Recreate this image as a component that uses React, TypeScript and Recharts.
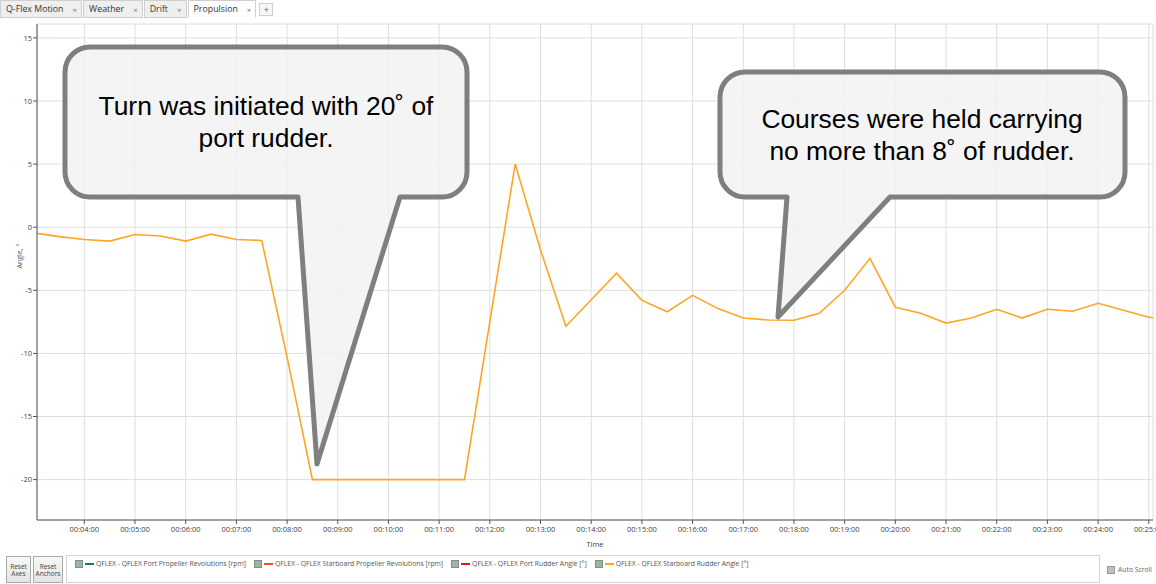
import React from 'react';
import { LineChart, Line, XAxis, YAxis, CartesianGrid } from 'recharts';

// ---- data ----
const timeSec = [
  180, 210, 240, 270, 300, 330, 360, 390, 420, 450,
  480, 510, 540, 570, 600, 630, 660, 690, 720, 750,
  780, 810, 840, 870, 900, 930, 960, 990, 1020, 1050,
  1080, 1110, 1140, 1170, 1200, 1230, 1260, 1290, 1320, 1350,
  1380, 1410, 1440, 1470, 1500, 1530,
];
const starboardRudderAngle = [
  -0.45, -0.75, -0.97, -1.1, -0.58, -0.7, -1.1, -0.55, -0.97, -1.05,
  -10.3, -20, -20, -20, -20, -20, -20, -20, -7.5, 5.0,
  -1.8, -7.85, -5.75, -3.65, -5.8, -6.7, -5.4, -6.45, -7.2, -7.35,
  -7.37, -6.82, -5.0, -2.47, -6.34, -6.82, -7.6, -7.2, -6.5, -7.2,
  -6.5, -6.66, -6.03, -6.58, -7.13, -7.4,
];
const xMajorTicks = [240, 300, 360, 420, 480, 540, 600, 660, 720, 780, 840, 900, 960, 1020, 1080, 1140, 1200, 1260, 1320, 1380, 1440, 1500];
const xMinorTicks: number[] = [];
for (let s = 190; s <= 1500; s += 10) xMinorTicks.push(s);
const yMajorTicks = [-20, -15, -10, -5, 0, 5, 10, 15];
const yMinorTicks = [-23, -22, -21, -20, -19, -18, -17, -16, -15, -14, -13, -12, -11, -10, -9, -8, -7, -6, -5, -4, -3, -2, -1, 0, 1, 2, 3, 4, 5, 6, 7, 8, 9, 10, 11, 12, 13, 14, 15, 16];
const xDomain = [184, 1505];
const yDomain = [-23.2, 16.1];

const tabNames = ['Q-Flex Motion', 'Weather', 'Drift', 'Propulsion'];
const activeTab = 'Propulsion';
const legendNames = [
  'QFLEX - QFLEX Port Propeller Revolutions [rpm]',
  'QFLEX - QFLEX Starboard Propeller Revolutions [rpm]',
  'QFLEX - QFLEX Port Rudder Angle [°]',
  'QFLEX - QFLEX Starboard Rudder Angle [°]',
];
const legendColors = ['#1b7a5e', '#ff4b1f', '#e8101a', '#ffa526'];
const callout1 = ['Turn was initiated with 20˚ of', 'port rudder.'];
const callout2 = ['Courses were held carrying', 'no more than 8˚ of rudder.'];

const data = timeSec.map((t, i) => ({ t, stbd: starboardRudderAngle[i] }));

const fmtTime = (s: number) => {
  const m = Math.floor(s / 60);
  const ss = s % 60;
  return `00:${String(m).padStart(2, '0')}:${String(ss).padStart(2, '0')}`;
};

const uiFont = '"Open Sans", "Noto Sans", sans-serif';

function bubblePath(x1: number, y1: number, x2: number, y2: number, r: number, xa: number, xb: number, tx: number, ty: number) {
  return `M ${x1 + r} ${y1} H ${x2 - r} A ${r} ${r} 0 0 1 ${x2} ${y1 + r} V ${y2 - r} A ${r} ${r} 0 0 1 ${x2 - r} ${y2} H ${xb} L ${tx} ${ty} L ${xa} ${y2} H ${x1 + r} A ${r} ${r} 0 0 1 ${x1} ${y2 - r} V ${y1 + r} A ${r} ${r} 0 0 1 ${x1 + r} ${y1} Z`;
}

const YLabel = (props: any) => {
  const vb = props.viewBox || {};
  const x = vb.x + 20;
  const y = vb.y + vb.height / 2 - 16;
  return (
    <text x={x} y={y} transform={`rotate(-90 ${x} ${y})`} textAnchor="middle" dominantBaseline="middle" fontSize={7} fill="#555" fontFamily={uiFont}>
      Angle, °
    </text>
  );
};

export default function App() {
  return (
    <div style={{ position: 'absolute', left: 0, top: 0, width: 1156, height: 584, background: '#fff', overflow: 'hidden', fontFamily: uiFont }}>
      {/* tab bar */}
      <div style={{ position: 'absolute', left: 0, top: 0, height: 18, display: 'flex', alignItems: 'stretch' }}>
        {tabNames.map((n) => (
          <div key={n} style={{ display: 'flex', alignItems: 'center', padding: '0 4px 0 5px', marginRight: 1, fontSize: 8.8, color: '#333', background: n === activeTab ? '#fff' : '#efefef', border: '1px solid #cfcfcf', borderBottom: n === activeTab ? '1px solid #fff' : '1px solid #cfcfcf', boxSizing: 'border-box' }}>
            <span>{n}</span>
            <span style={{ marginLeft: 9, fontSize: 8, color: '#777' }}>×</span>
          </div>
        ))}
        <div style={{ display: 'flex', alignItems: 'center', justifyContent: 'center', width: 14, margin: '3px 0 2px 2px', fontSize: 9, color: '#666', border: '1px solid #cfcfcf', boxSizing: 'border-box', background: '#f6f6f6' }}>+</div>
      </div>

      {/* chart */}
      <div style={{ position: 'absolute', left: 0, top: 0 }}>
        <LineChart width={1156} height={554} data={data} margin={{ top: 24, right: 3, left: 0, bottom: 0 }}>
          <CartesianGrid xAxisId="main" yAxisId="main" stroke="#dedede" strokeWidth={1} />
          <XAxis xAxisId="minor" dataKey="t" type="number" domain={xDomain} allowDataOverflow ticks={xMinorTicks} interval={0} tick={false} tickSize={3} height={0} axisLine={false} stroke="#555" />
          <XAxis xAxisId="main" dataKey="t" type="number" domain={xDomain} allowDataOverflow ticks={xMajorTicks} interval={0} tickFormatter={fmtTime} tickSize={4} tickMargin={3} height={34} stroke="#555" tick={{ fontSize: 7.5, fill: '#444', fontFamily: uiFont }} label={{ value: 'Time', position: 'insideBottom', offset: 7, fontSize: 7.5, fill: '#444', fontFamily: uiFont }} />
          <XAxis xAxisId="top" orientation="top" dataKey="t" type="number" domain={xDomain} allowDataOverflow height={0} tick={false} tickLine={false} stroke="#555" />
          <YAxis yAxisId="minor" type="number" domain={yDomain} allowDataOverflow ticks={yMinorTicks} interval={0} tick={false} tickSize={3} width={0} axisLine={false} stroke="#555" />
          <YAxis yAxisId="main" type="number" domain={yDomain} allowDataOverflow ticks={yMajorTicks} interval={0} tickSize={4} tickMargin={1} width={37} stroke="#555" tick={{ fontSize: 7.5, fill: '#444', fontFamily: uiFont }} label={<YLabel />} />
          <YAxis yAxisId="right" orientation="right" type="number" domain={yDomain} allowDataOverflow width={0} tick={false} tickLine={false} stroke="#555" />
          <Line xAxisId="main" yAxisId="main" type="linear" dataKey="stbd" stroke="#ffa526" strokeWidth={1.6} dot={false} isAnimationActive={false} />
        </LineChart>
      </div>

      {/* callouts */}
      <svg width={1156} height={584} style={{ position: 'absolute', left: 0, top: 0, pointerEvents: 'none' }}>
        <path d={bubblePath(65, 47, 467, 197, 25, 298, 400, 317, 464)} fill="#f2f2f2" fillOpacity={0.85} stroke="#7f7f7f" strokeWidth={5} strokeLinejoin="round" />
        <path d={bubblePath(720, 72, 1125, 197, 25, 787, 890, 778, 317)} fill="#f2f2f2" fillOpacity={0.85} stroke="#7f7f7f" strokeWidth={5} strokeLinejoin="round" />
        {callout1.map((s, i) => (
          <text key={s} x={266} y={115 + i * 31.7} textAnchor="middle" fontSize={26.4} fontFamily='"Liberation Sans", Arial, sans-serif' fill="#000">{s}</text>
        ))}
        {callout2.map((s, i) => (
          <text key={s} x={922} y={128.3 + i * 31.7} textAnchor="middle" fontSize={26.4} fontFamily='"Liberation Sans", Arial, sans-serif' fill="#000">{s}</text>
        ))}
      </svg>

      {/* bottom buttons */}
      {[['Reset', 'Axes'], ['Reset', 'Anchors']].map((lines, i) => (
        <div key={i} style={{ position: 'absolute', left: i === 0 ? 6 : 33, top: 556, width: i === 0 ? 25 : 30, height: 27, boxSizing: 'border-box', border: '1px solid #aaa', background: 'linear-gradient(#f8f8f8, #e4e4e4)', display: 'flex', flexDirection: 'column', alignItems: 'center', justifyContent: 'center', fontSize: 6.5, lineHeight: '7px', color: '#444' }}>
          <span>{lines[0]}</span>
          <span>{lines[1]}</span>
        </div>
      ))}

      {/* legend */}
      <div style={{ position: 'absolute', left: 66, top: 555, width: 1034, height: 28, boxSizing: 'border-box', border: '1px solid #d4d4d4', display: 'flex', alignItems: 'flex-start', paddingLeft: 8, paddingTop: 3 }}>
        {legendNames.map((n, i) => (
          <div key={n} style={{ display: 'flex', alignItems: 'center', marginRight: 8, fontSize: 6.8, color: '#555', whiteSpace: 'nowrap' }}>
            <span style={{ display: 'inline-block', width: 6, height: 6, background: '#9fb3a9', border: '1px solid #7e9188', marginRight: 2 }} />
            <span style={{ display: 'inline-block', width: 9, height: 2, background: legendColors[i], marginRight: 2 }} />
            <span>{n}</span>
          </div>
        ))}
      </div>

      {/* auto scroll */}
      <div style={{ position: 'absolute', left: 1107, top: 565, display: 'flex', alignItems: 'center', fontSize: 6.8, color: '#666' }}>
        <span style={{ display: 'inline-block', width: 6, height: 6, background: '#b9c4be', border: '1px solid #999', marginRight: 3 }} />
        <span>Auto Scroll</span>
      </div>
    </div>
  );
}
